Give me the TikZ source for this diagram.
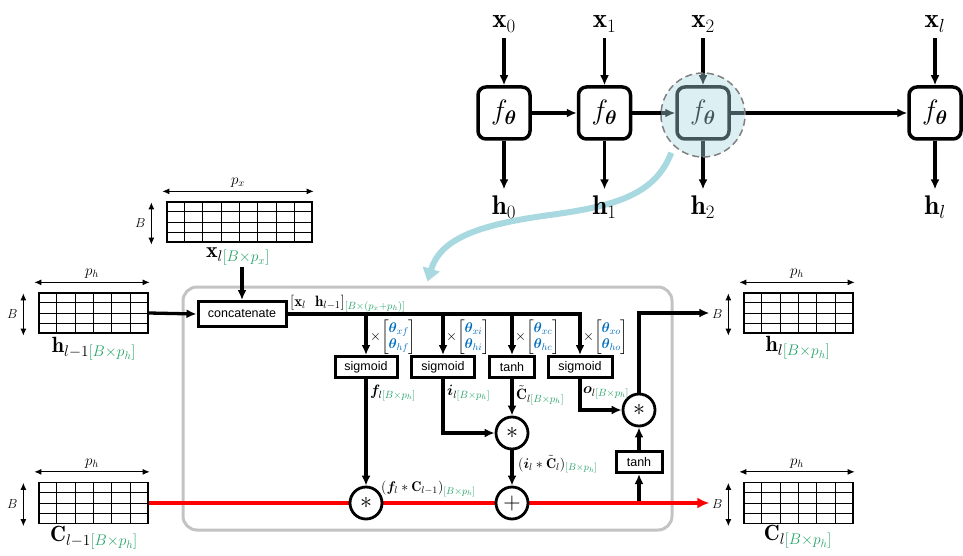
\RequirePackage{fix-cm}
\documentclass[tikz,border=0pt]{standalone}
\usepackage{amsmath,bm}
\usepackage{fontspec}
\newfontfamily\arialf{Liberation Sans}
\usetikzlibrary{arrows.meta,calc}
\definecolor{subg}{RGB}{40,165,105}
\definecolor{thb}{RGB}{0,110,190}
\definecolor{cyanl}{RGB}{168,216,224}
\definecolor{cellg}{RGB}{195,195,195}
\pgfdeclarelayer{back}
\pgfdeclarelayer{bg}
\pgfsetlayers{back,bg,main}
\newcommand{\sg}[1]{\textcolor{subg}{#1}}
\newcommand{\matgrid}[3]{%
  \pgfmathtruncatemacro\mgc{#2-1}\pgfmathtruncatemacro\mgr{#3-1}%
  \foreach \i in {1,...,\mgc}{\draw[gridl] ($(#1.north west)!\i/#2!(#1.north east)$) -- ($(#1.south west)!\i/#2!(#1.south east)$);}%
  \foreach \j in {1,...,\mgr}{\draw[gridl] ($(#1.north west)!\j/#3!(#1.south west)$) -- ($(#1.north east)!\j/#3!(#1.south east)$);}%
}
\newcommand{\matdims}[2]{%
  \draw[dimarr] ($(#1.north west)+(-4,-10)$) -- ($(#1.north east)+(1,-10)$) node[midway,above=0pt,font=\fontsize{15}{17}\selectfont]{$#2$};%
  \draw[dimarr] ($(#1.north west)+(-15,1)$) -- ($(#1.south west)+(-15,2)$) node[midway,left=2pt,font=\fontsize{13}{15}\selectfont]{$B$};%
}
\begin{document}
\begin{tikzpicture}[x=1pt,y=-1pt,
  arr/.style={line width=3.3pt,-{Latex[length=10pt,width=9pt]}},
  dimarr/.style={line width=1pt,{Latex[length=7pt,width=6pt]}-{Latex[length=7pt,width=6pt]}},
  gridl/.style={line width=1pt},
  matb/.style={draw,line width=1.3pt,inner sep=0pt},
  fbox/.style={draw,line width=3.5pt,rounded corners=8pt,minimum width=52pt,minimum height=52pt,fill=white,font=\fontsize{28}{30}\selectfont},
  toplab/.style={font=\fontsize{27}{30}\selectfont,inner sep=6pt},
  opbox/.style={draw,line width=3pt,fill=white,font=\arialf\fontsize{12.5}{14}\selectfont,inner sep=0pt,minimum height=21pt},
  opc/.style={circle,draw,line width=2.8pt,fill=white,minimum size=32pt,inner sep=0pt,font=\fontsize{24}{26}\selectfont},
  mlab/.style={font=\fontsize{22}{24}\selectfont,inner sep=1pt},
  slab/.style={font=\fontsize{15}{17}\selectfont,anchor=west,inner sep=0pt},
  thlab/.style={font=\fontsize{14}{16}\selectfont,anchor=west,inner sep=0pt}
]
\useasboundingbox (0,0) rectangle (963,556);

% ---------- top unrolled chain ----------
\node[toplab] (x0) at (504,24) {$\mathbf{x}_0$};
\node[toplab] (x1) at (604.5,24) {$\mathbf{x}_1$};
\node[toplab] (x2) at (703,24) {$\mathbf{x}_2$};
\node[toplab] (xl) at (935,24) {$\mathbf{x}_l$};
\node[fbox] (f0) at (504,113) {$f_{\bm\theta}$};
\node[fbox] (f1) at (604.5,113) {$f_{\bm\theta}$};
\node[fbox] (f2) at (703,113) {$f_{\bm\theta}$};
\node[fbox] (fl) at (935,113) {$f_{\bm\theta}$};
\node[toplab] (h0) at (504,207) {$\mathbf{h}_0$};
\node[toplab] (h1) at (604.5,207) {$\mathbf{h}_1$};
\node[toplab] (h2) at (703,207) {$\mathbf{h}_2$};
\node[toplab] (hl) at (935,207) {$\mathbf{h}_l$};

% ---------- LSTM cell ----------
\begin{pgfonlayer}{back}
\node[draw=cellg,line width=3pt,rounded corners=14pt,minimum width=489pt,minimum height=243pt] (cell) at (427.5,408.5) {};
\end{pgfonlayer}

% matrices
\node[matb,minimum width=145pt,minimum height=40pt] (mX) at (239.5,222) {};
\node[matb,minimum width=109pt,minimum height=40pt] (mH) at (93.5,313) {};
\node[matb,minimum width=109pt,minimum height=41pt] (mC) at (93.5,503) {};
\node[matb,minimum width=109pt,minimum height=40pt] (mHo) at (798.5,313) {};
\node[matb,minimum width=109pt,minimum height=41pt] (mCo) at (798.5,503) {};
\matgrid{mX}{8}{4}
\matgrid{mH}{6}{4}
\matgrid{mC}{6}{4}
\matgrid{mHo}{6}{4}
\matgrid{mCo}{6}{4}
\matdims{mX}{p_x}
\matdims{mH}{p_h}
\matdims{mC}{p_h}
\matdims{mHo}{p_h}
\matdims{mCo}{p_h}
\node[mlab] (xlab) at (238,257) {$\mathbf{x}_{l\sg{[B\times p_x]}}$};
\node[mlab] (hlab) at (94,349) {$\mathbf{h}_{l-1\sg{[B\times p_h]}}$};
\node[mlab] (clab) at (94,538) {$\mathbf{C}_{l-1\sg{[B\times p_h]}}$};
\node[mlab] (holab) at (798,348) {$\mathbf{h}_{l\sg{[B\times p_h]}}$};
\node[mlab] (colab) at (798,537) {$\mathbf{C}_{l\sg{[B\times p_h]}}$};
\coordinate (hout) at ($(mHo.west)+(-34,0)$);
\coordinate (cout) at ($(mCo.west)+(-34,0)$);

% operation boxes
\node[opbox,minimum width=88pt,minimum height=25pt] (concat) at (242,314) {concatenate};
\node[opbox,minimum width=62pt] (sigf) at (366,367) {sigmoid};
\node[opbox,minimum width=63pt] (sigi) at (443,367) {sigmoid};
\node[opbox,minimum width=45pt] (tanhc) at (512,367) {tanh};
\node[opbox,minimum width=64pt] (sigo) at (580,367) {sigmoid};
\node[opbox,minimum width=46pt] (tanho) at (639,462) {tanh};
\node[opc] (mf) at (366,503) {$\ast$};
\node[opc] (mi) at (512,433) {$\ast$};
\node[opc] (add) at (512,503) {$+$};
\node[opc] (mo) at (639,410) {$\ast$};

% labels
\node[anchor=south west,inner sep=1pt,font=\fontsize{15}{17}\selectfont] (lcat) at (289,313) {$[\mathbf{x}_l\ \ \mathbf{h}_{l-1}]_{\sg{[B\times(p_x+p_h)]}}$};
\node[thlab] (thf) at (370,337) {$\times\!\left[\begin{matrix}\textcolor{thb}{\bm\theta_{xf}}\\ \textcolor{thb}{\bm\theta_{hf}}\end{matrix}\right]$};
\node[thlab] (thi) at (446,337) {$\times\!\left[\begin{matrix}\textcolor{thb}{\bm\theta_{xi}}\\ \textcolor{thb}{\bm\theta_{hi}}\end{matrix}\right]$};
\node[thlab] (thc) at (515,337) {$\times\!\left[\begin{matrix}\textcolor{thb}{\bm\theta_{xc}}\\ \textcolor{thb}{\bm\theta_{hc}}\end{matrix}\right]$};
\node[thlab] (tho) at (583,337) {$\times\!\left[\begin{matrix}\textcolor{thb}{\bm\theta_{xo}}\\ \textcolor{thb}{\bm\theta_{ho}}\end{matrix}\right]$};
\node[slab] (lf) at (370,393) {$\bm{f}_{l\sg{[B\times p_h]}}$};
\node[slab] (li) at (447,393) {$\bm{i}_{l\sg{[B\times p_h]}}$};
\node[slab] (lc) at (516,395) {$\tilde{\mathbf{C}}_{l\sg{[B\times p_h]}}$};
\node[slab] (lo) at (583,393) {$\bm{o}_{l\sg{[B\times p_h]}}$};
\node[slab,font=\fontsize{14}{16}\selectfont] (lfc) at (381,489) {$(\bm{f}_l\ast\mathbf{C}_{l-1})_{\sg{[B\times p_h]}}$};
\node[slab,font=\fontsize{14}{16}\selectfont] (lic) at (518,464) {$(\bm{i}_l\ast\tilde{\mathbf{C}}_l)_{\sg{[B\times p_h]}}$};

% ---------- connectors ----------
\begin{pgfonlayer}{bg}
\draw[arr] (x0) -- (f0);
\draw[arr] (x1) -- (f1);
\draw[arr] (x2) -- (f2);
\draw[arr] (xl) -- (fl);
\draw[arr] (f0) -- (h0);
\draw[arr] (f1) -- (h1);
\draw[arr] (f2) -- (h2);
\draw[arr] (fl) -- (hl);
\draw[arr] (f0) -- (f1);
\draw[arr] (f1) -- (f2);
\draw[arr] (f2) -- (fl);
\draw[line width=6pt,cyanl,-{Triangle[length=13pt,width=17pt]}] (f2.south west) ++(-4,12)
  .. controls (655,195) and (615,206) .. (550,215)
  .. controls (475,225) and (440,240) .. ($(cell.north)+(0,-4)$);

\draw[arr] (concat.north |- xlab.south) -- (concat.north);
\draw[arr] (mH.east) -- (concat.west);
\draw[arr] (concat.east) -| (sigo.north);
\draw[arr] (sigf.north |- concat.east) -- (sigf.north);
\draw[arr] (sigi.north |- concat.east) -- (sigi.north);
\draw[arr] (tanhc.north |- concat.east) -- (tanhc.north);
\draw[arr] (sigf.south) -- (mf.north);
\draw[arr] (sigi.south) |- (mi.west);
\draw[arr] (tanhc.south) -- (mi.north);
\draw[arr] (mi.south) -- (add.north);
\draw[arr] (sigo.south) |- (mo.west);
\draw[arr] (tanho.north) -- (mo.south);
\draw[arr] (tanho.south |- mCo.west) -- (tanho.south);
\draw[arr] (mo.north) |- (hout);
\draw[line width=4pt,red,-{Latex[length=12pt,width=11pt]}] (mC.east) -- (cout);
\end{pgfonlayer}

% zoom highlight
\node[circle,draw=gray,dashed,dash pattern=on 7pt off 4pt,line width=1.5pt,fill=cyanl,fill opacity=0.4,minimum size=84pt] (zoomc) at (703,115) {};
\end{tikzpicture}
\end{document}
